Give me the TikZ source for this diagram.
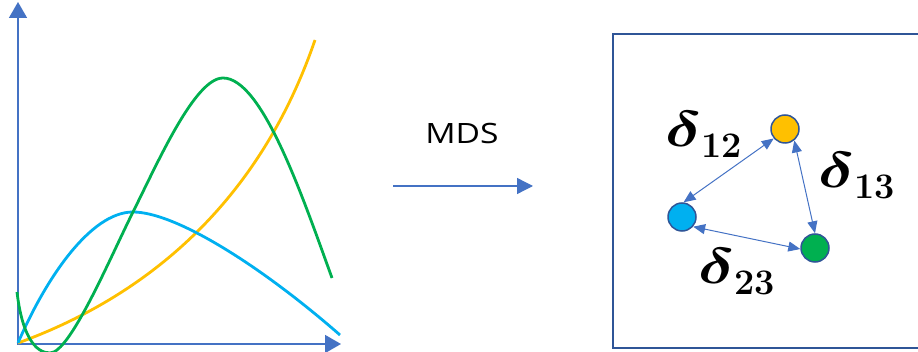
\RequirePackage{fix-cm}
\documentclass[tikz,border=0pt]{standalone}
\usepackage{amsmath,bm}
\usepackage{fontspec}
\newfontfamily\mdsfont{Open Sans}
\usetikzlibrary{arrows.meta}
\definecolor{axisblue}{HTML}{4472C4}
\definecolor{darkblue}{HTML}{2F5597}
\definecolor{cyellow}{HTML}{FFC000}
\definecolor{ccyan}{HTML}{00B0F0}
\definecolor{cgreen}{HTML}{00B050}
\tikzset{
  axisline/.style={axisblue, line width=1.6pt, -{Triangle[length=16pt,width=18pt]}},
  mdsarrow/.style={axisblue, line width=1.3pt, -{Triangle[length=16pt,width=16pt]}},
  curve/.style={line width=2.8pt},
  frame/.style={darkblue, line width=2.2pt},
  pt/.style={circle, draw=darkblue, line width=1.5pt, minimum size=28pt, inner sep=0pt},
  link/.style={axisblue, line width=1pt, {Triangle[length=12pt,width=10pt]}-{Triangle[length=12pt,width=10pt]}},
  lbl/.style={anchor=base west, inner sep=0pt},
}
\newcommand{\dlabel}[1]{\scalebox{1.35}[1.05]{\fontsize{48}{48}\selectfont$\bm{\delta}$}\raisebox{-11pt}{\fontsize{36}{36}\selectfont\bfseries #1}}
\begin{document}
\begin{tikzpicture}[x=1pt,y=-1pt]
\useasboundingbox (0,0) rectangle (918,352);
% axes
\coordinate (O) at (18,345);
\coordinate (ytip) at (18,2);
\coordinate (O2) at (17,344);
\coordinate (xtip) at (341,344);
\draw[axisline] (O) -- (ytip);
\draw[axisline] (O2) -- (xtip);
% curves
\draw[curve, cyellow] (18,343) .. controls (150,295) and (260,200) .. (315,40);
\draw[curve, ccyan] (18,343) .. controls (45,280) and (90,212) .. (133,212)
   .. controls (175,212) and (260,265) .. (340,335);
\draw[curve, cgreen] (17,292) .. controls (22,335) and (35,353) .. (50,353)
   .. controls (70,353) and (110,258) .. (133,212)
   .. controls (158,162) and (195,78) .. (223,78)
   .. controls (262,78) and (302,195) .. (332,278);
% MDS arrow
\node[font=\mdsfont\fontsize{28}{28}\selectfont, inner sep=0pt] (mds) at (462,134) {\scalebox{1.2}[1]{MDS}};
\coordinate (a1) at (393,186);
\coordinate (a2) at (533,186);
\draw[mdsarrow] (a1) -- (a2);
% frame
\coordinate (f1) at (920,34);
\coordinate (f2) at (613,34);
\coordinate (f3) at (613,348);
\coordinate (f4) at (920,348);
\draw[frame] (f1) -- (f2) -- (f3) -- (f4);
% points
\node[pt, fill=cyellow] (p1) at (785,129) {};
\node[pt, fill=ccyan] (p2) at (682,217) {};
\node[pt, fill=cgreen] (p3) at (815,248) {};
\draw[link] (p2.84) -- (p1.220);
\draw[link] (p1.309) -- (p3.90);
\draw[link] (p2.319) -- (p3.184);
% labels
\node[lbl] (d12) at (665,147) {\dlabel{12}};
\node[lbl] (d13) at (818,188) {\dlabel{13}};
\node[lbl] (d23) at (698,284) {\dlabel{23}};
\end{tikzpicture}
\end{document}
